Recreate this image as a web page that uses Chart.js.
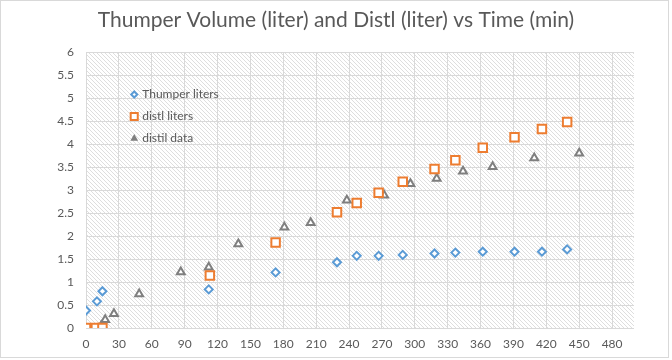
<!DOCTYPE html>
<html>
<head>
<meta charset="utf-8">
<script src="https://cdn.jsdelivr.net/npm/chart.js@4"></script>
<style>
  html, body { margin: 0; padding: 0; background: #fff; }
  #wrap { width: 672px; height: 360px; }
</style>
</head>
<body>
<div id="wrap"><canvas id="myChart" width="672" height="360"></canvas></div>
<script>
// time (min) and volume (liter)
const thumperTime = [0, 10, 15, 112, 173, 229, 247, 267, 289, 318, 337, 362, 391, 416, 439];
const thumperLiters = [0.38, 0.58, 0.80, 0.84, 1.21, 1.43, 1.57, 1.57, 1.59, 1.62, 1.64, 1.66, 1.66, 1.66, 1.71];

const distlTime = [0, 9, 15, 113, 173, 229, 247, 267, 289, 318, 337, 362, 391, 416, 439];
const distlLiters = [0, 0, 0, 1.14, 1.86, 2.52, 2.72, 2.94, 3.18, 3.46, 3.65, 3.92, 4.15, 4.33, 4.48];

const distilTime = [14, 17.5, 25.5, 48.5, 86.5, 112, 139, 181, 205, 238, 272, 296, 320, 344, 371, 409, 450];
const distilData = [0.05, 0.18, 0.31, 0.74, 1.22, 1.32, 1.83, 2.19, 2.29, 2.78, 2.89, 3.14, 3.25, 3.41, 3.51, 3.70, 3.80];

const seriesNames = ['Thumper liters', 'distl liters', 'distil data'];
const xTicks = [0, 30, 60, 90, 120, 150, 180, 210, 240, 270, 300, 330, 360, 390, 420, 450, 480];

const ctx = document.querySelector('#myChart');
const fontFam = "Lato, 'Open Sans', sans-serif";
const gray = '#595959';

const toPts = (xs, ys) => xs.map((x, i) => ({ x: x, y: ys[i] }));

// diagonal hatch for the plot area
const makeHatch = () => {
    const c = document.createElement('canvas');
    c.width = 4; c.height = 4;
    const g = c.getContext('2d');
    g.fillStyle = '#ffffff';
    g.fillRect(0, 0, 4, 4);
    g.fillStyle = '#dedede';
    for (let i = 0; i < 4; i++) g.fillRect(i, i, 1, 1);
    return g.createPattern(c, 'repeat');
};

const bgPlugin = {
    id: 'bgPlugin',
    beforeDraw(chart) {
        const { ctx, chartArea: a } = chart;
        ctx.save();
        ctx.strokeStyle = '#d9d9d9';
        ctx.lineWidth = 1;
        ctx.strokeRect(0.5, 0.5, chart.width - 4, chart.height - 3);
        ctx.fillStyle = makeHatch();
        ctx.fillRect(a.left, a.top, a.right - a.left, a.bottom - a.top);
        ctx.restore();
    }
};

// legend drawn inside the plot area
const innerLegend = {
    id: 'innerLegend',
    afterDatasetsDraw(chart) {
        const { ctx, scales } = chart;
        const x0 = scales.x.getPixelForValue(44);
        ctx.save();
        ctx.font = '12px ' + fontFam;
        ctx.textBaseline = 'middle';
        chart.data.datasets.forEach((ds, i) => {
            const y = scales.y.getPixelForValue(5.08 - i * 0.48);
            const style = ds.pointStyle;
            ctx.strokeStyle = ds.borderColor;
            ctx.lineWidth = 2;
            ctx.fillStyle = style === 'triangle' ? ds.borderColor : '#fff';
            Chart.helpers.drawPoint(ctx, {
                pointStyle: style,
                radius: style === 'rect' ? 5 : (style === 'triangle' ? 2.5 : 3),
                borderWidth: 2
            }, x0, y);
            ctx.fillStyle = gray;
            ctx.fillText(ds.label, x0 + 8, y);
        });
        ctx.restore();
    }
};

const grafico = new Chart(ctx, {
    type: 'scatter',
    data: {
        datasets: [
            {
                label: seriesNames[0],
                data: toPts(thumperTime, thumperLiters),
                pointStyle: 'rectRot',
                pointRadius: 4,
                pointBorderWidth: 2,
                borderColor: '#5B9BD5',
                backgroundColor: '#ffffff'
            },
            {
                label: seriesNames[1],
                data: toPts(distlTime, distlLiters),
                pointStyle: 'rect',
                pointRadius: 6,
                pointBorderWidth: 2,
                borderColor: '#ED7D31',
                backgroundColor: '#ffffff'
            },
            {
                label: seriesNames[2],
                data: toPts(distilTime, distilData),
                pointStyle: 'triangle',
                pointRadius: 4.5,
                pointBorderWidth: 2,
                borderColor: '#7F7F7F',
                backgroundColor: '#ffffff'
            }
        ]
    },
    options: {
        responsive: false,
        animation: false,
        layout: { padding: 0 },
        plugins: {
            legend: { display: false },
            tooltip: { enabled: false },
            title: {
                display: true,
                text: 'Thumper Volume (liter) and Distl (liter) vs Time (min)',
                color: gray,
                font: { family: fontFam, size: 21, weight: 'normal' },
                padding: { top: 8, bottom: 19 }
            }
        },
        scales: {
            x: {
                type: 'linear',
                min: 0,
                max: 500,
                afterBuildTicks: (scale) => {
                    scale.ticks = xTicks.map(v => ({ value: v }));
                },
                afterFit: (scale) => { scale.height = 32; },
                grid: { color: '#d9d9d9', drawTicks: false },
                border: { display: false },
                ticks: { color: gray, font: { family: fontFam, size: 12 }, padding: 9, maxRotation: 0, autoSkip: false }
            },
            y: {
                min: 0,
                max: 6,
                ticks: {
                    stepSize: 0.5,
                    color: gray,
                    font: { family: fontFam, size: 12 },
                    padding: 12,
                    callback: (v) => String(v)
                },
                afterFit: (scale) => { scale.width = 86; },
                grid: { color: '#d9d9d9', drawTicks: false },
                border: { display: false }
            },
            yRight: {
                position: 'right',
                display: true,
                min: 0,
                max: 6,
                grid: { display: false, drawTicks: false },
                border: { display: false },
                ticks: { display: false },
                afterFit: (scale) => { scale.width = 38; }
            }
        }
    },
    plugins: [bgPlugin, innerLegend]
});
</script>
</body>
</html>
